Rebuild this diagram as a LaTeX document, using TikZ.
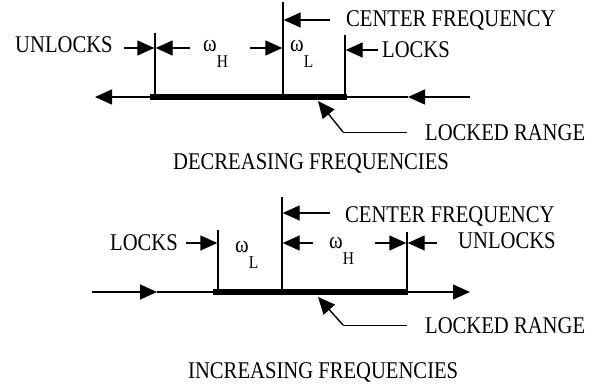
\documentclass[tikz,border=0pt]{standalone}
\usepackage{fontspec}
\setmainfont{Liberation Serif}[FakeStretch=0.86]
\usetikzlibrary{arrows.meta}
\begin{document}
\begin{tikzpicture}[x=1pt,y=-1pt,
  thinline/.style={line width=1.4pt},
  thickline/.style={line width=5.5pt},
  leader/.style={line width=0.9pt},
  tipline/.style={line width=1.4pt,-{Triangle[length=17pt,width=15pt]}},
  lbl/.style={anchor=base west,inner sep=0pt,font=\fontsize{24}{28}\selectfont},
]
\useasboundingbox (0,0) rectangle (594,385);
\newcommand{\omsub}[1]{ω\raisebox{-16pt}{\fontsize{18}{18}\selectfont #1}}

% ---------------- top: decreasing ----------------
\coordinate (tL) at (95,97);
\coordinate (tA) at (150,97);
\coordinate (tB) at (347,97);
\coordinate (tM) at (408,97);
\coordinate (tR) at (470,97);
\draw[tipline] (tA) -- (tL);
\draw[thickline] (tA) -- (tB);
\draw[thinline] (tM) -- (tB);
\draw[tipline] (tR) -- (tM);

\coordinate (tv1b) at (155,97); \coordinate (tv1t) at (155,33);
\coordinate (tv2b) at (283,97); \coordinate (tv2t) at (283,2);
\coordinate (tv3b) at (345,97); \coordinate (tv3t) at (345,35);
\draw[thinline] (tv1b) -- (tv1t);
\draw[thinline] (tv2b) -- (tv2t);
\draw[thinline] (tv3b) -- (tv3t);

\node[lbl] (tunl) at (15,53) {UNLOCKS};
\node[lbl] (twh) at (203,52) {\omsub{H}};
\node[lbl] (twl) at (290,52) {\omsub{L}};
\node[lbl] (tlck) at (382,58) {LOCKS};
\node[lbl] (tcen) at (346,27) {CENTER FREQUENCY};
\node[lbl] (tlr) at (425,140) {LOCKED RANGE};
\node[lbl] (tdec) at (173,169) {DECREASING FREQUENCIES};

\coordinate (ta1s) at (124,48); \coordinate (ta1e) at (154.3,48);
\coordinate (ta2s) at (190,48); \coordinate (ta2e) at (155.7,48);
\coordinate (ta3s) at (250,48); \coordinate (ta3e) at (282.3,48);
\coordinate (ta4s) at (378,50); \coordinate (ta4e) at (345.7,50);
\coordinate (ta5s) at (330,20); \coordinate (ta5e) at (283.7,20);
\draw[tipline] (ta1s) -- (ta1e);
\draw[tipline] (ta2s) -- (ta2e);
\draw[tipline] (ta3s) -- (ta3e);
\draw[tipline] (ta4s) -- (ta4e);
\draw[tipline] (ta5s) -- (ta5e);

\coordinate (tpt) at (318,101);
\coordinate (tpc) at (343,132);
\coordinate (tpe) at (407,132);
\draw[leader] (tpe) -- (tpc);
\draw[tipline] (tpc) -- (tpt);

% ---------------- bottom: increasing ----------------
\coordinate (bL) at (92,292);
\coordinate (bM) at (157,292);
\coordinate (bA) at (213,292);
\coordinate (bB) at (408,292);
\coordinate (bR) at (470,292);
\draw[tipline] (bL) -- (bM);
\draw[thinline] (bM) -- (bA);
\draw[thickline] (bA) -- (bB);
\draw[tipline] (bB) -- (bR);

\coordinate (bv1b) at (218,292); \coordinate (bv1t) at (218,230);
\coordinate (bv2b) at (282,292); \coordinate (bv2t) at (282,197);
\coordinate (bv3b) at (407,292); \coordinate (bv3t) at (407,232);
\draw[thinline] (bv1b) -- (bv1t);
\draw[thinline] (bv2b) -- (bv2t);
\draw[thinline] (bv3b) -- (bv3t);

\node[lbl] (blck) at (110,250) {LOCKS};
\node[lbl] (bwl) at (235,252) {\omsub{L}};
\node[lbl] (bcen) at (345,222) {CENTER FREQUENCY};
\node[lbl] (bwh) at (329,248) {\omsub{H}};
\node[lbl] (bunl) at (458,248) {UNLOCKS};
\node[lbl] (blr) at (425,333) {LOCKED RANGE};
\node[lbl] (binc) at (188,378) {INCREASING FREQUENCIES};

\coordinate (ba1s) at (186,243); \coordinate (ba1e) at (217.3,243);
\coordinate (ba2s) at (330,213); \coordinate (ba2e) at (282.7,213);
\coordinate (ba3s) at (313,243); \coordinate (ba3e) at (282.7,243);
\coordinate (ba4s) at (375,243); \coordinate (ba4e) at (406.3,243);
\coordinate (ba5s) at (437,243); \coordinate (ba5e) at (407.7,243);
\draw[tipline] (ba1s) -- (ba1e);
\draw[tipline] (ba2s) -- (ba2e);
\draw[tipline] (ba3s) -- (ba3e);
\draw[tipline] (ba4s) -- (ba4e);
\draw[tipline] (ba5s) -- (ba5e);

\coordinate (bpt) at (318,297);
\coordinate (bpc) at (343,325);
\coordinate (bpe) at (407,325);
\draw[leader] (bpe) -- (bpc);
\draw[tipline] (bpc) -- (bpt);
\end{tikzpicture}
\end{document}
